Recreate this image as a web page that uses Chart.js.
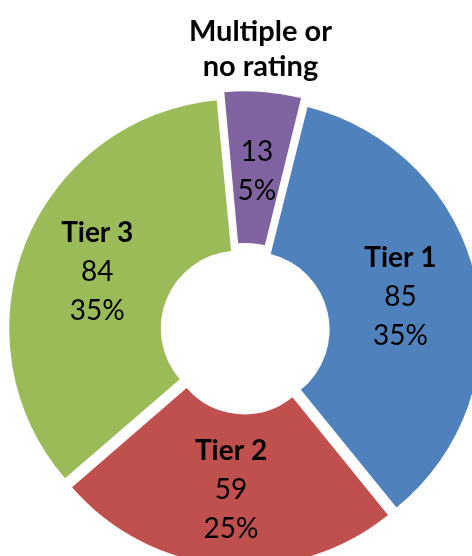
<!DOCTYPE html>
<html>
<head>
<meta charset="utf-8">
<script src="https://cdn.jsdelivr.net/npm/chart.js@4/dist/chart.umd.min.js"></script>
<style>
  html, body { margin: 0; padding: 0; background: #fff; overflow: hidden; }
  #wrap { position: absolute; left: 0; top: 0; width: 490px; height: 662px; }
</style>
</head>
<body>
<div id="wrap"><canvas id="ratingChart" width="490" height="662"></canvas></div>
<script>
// data
const categories = ['Tier 1', 'Tier 2', 'Tier 3', 'Multiple or no rating'];
const counts = [85, 59, 84, 13];
const percentLabels = ['35%', '25%', '35%', '5%'];
const sliceColors = ['#4F81BD', '#C0504D', '#9BBB59', '#8064A2'];

const FONT = 'Lato, "Open Sans", sans-serif';
const LINE = 39;

// labels drawn inside each slice, the last one gets its name outside the ring
const sliceLabels = {
    id: 'sliceLabels',
    afterDatasetsDraw(chart) {
        const ctx = chart.ctx;
        const meta = chart.getDatasetMeta(0);
        ctx.save();
        ctx.fillStyle = '#000';
        ctx.textAlign = 'center';
        ctx.textBaseline = 'middle';
        meta.data.forEach((arc, i) => {
            const p = arc.getProps(['x', 'y', 'startAngle', 'endAngle', 'innerRadius', 'outerRadius'], true);
            // chart.js v4 moves an arc by offset / 4
            const off = (arc.options.offset || 0) / 4;
            const mid = (p.startAngle + p.endAngle) / 2;
            const r = (p.innerRadius + p.outerRadius) / 2 + off;
            const cx = p.x + Math.cos(mid) * r;
            const cy = p.y + Math.sin(mid) * r;
            const bold = 'bold 28px ' + FONT;
            const normal = '28px ' + FONT;
            if (i < 3) {
                ctx.font = bold;
                ctx.fillText(categories[i], cx, cy - LINE);
                ctx.font = normal;
                ctx.fillText(String(counts[i]), cx, cy);
                ctx.fillText(percentLabels[i], cx, cy + LINE);
            } else {
                ctx.font = normal;
                ctx.fillText(String(counts[i]), cx, cy - LINE / 2 - 1);
                ctx.fillText(percentLabels[i], cx, cy + LINE / 2 - 1);
                // name above the ring
                const ro = p.outerRadius + off + 38;
                const tx = p.x + Math.cos(mid) * ro - 5;
                const ty = p.y + Math.sin(mid) * ro;
                ctx.font = 'bold 29px ' + FONT;
                ctx.fillText('Multiple or', tx, ty - 27);
                ctx.fillText('no rating', tx, ty + 8);
            }
        });
        ctx.restore();
    }
};

const ctx = document.getElementById('ratingChart').getContext('2d');
const ratingChart = new Chart(ctx, {
    type: 'doughnut',
    data: {
        labels: categories,
        datasets: [{
            data: counts,
            backgroundColor: sliceColors,
            borderWidth: 0,
            offset: 28
        }]
    },
    options: {
        responsive: false,
        animation: false,
        rotation: 14,
        radius: 228,
        cutout: '33.5%',
        layout: { padding: 0 },
        plugins: {
            legend: { display: false },
            tooltip: { enabled: false }
        }
    },
    plugins: [sliceLabels]
});
</script>
</body>
</html>
